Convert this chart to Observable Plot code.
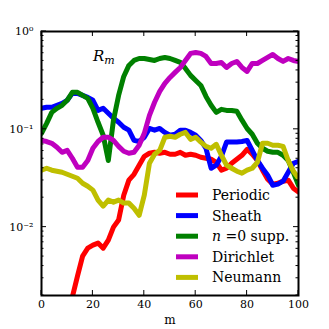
<!DOCTYPE html>
<html><head><meta charset="utf-8">
<script src="https://cdn.jsdelivr.net/npm/d3@7"></script>
<script src="https://cdn.jsdelivr.net/npm/@observablehq/plot@0.6"></script>
<style>
body{margin:0;background:#fff;}
#chart{width:329px;height:329px;}
svg text.serif, svg text.serif tspan{font-family:"DejaVu Serif","Liberation Serif",serif !important;}
</style></head><body><div id="chart"></div>
<script>
// m sampling (x)
const mValues = [0,2,4,6,8,10,12,14,16,18,20,22,24,26,28,30,32,34,36,38,40,42,44,46,48,50,52,54,56,58,60,62,64,66,68,70,72,74,76,78,80,82,84,86,88,90,92,94,96,98,100];
const mPeriodic = [12,14,16,18,20,22,24,26,28,30,32,34,36,38,40,42,44,46,48,50,52,54,56,58,60,62,64,66,68,70,72,74,76,78,80,82,84,86,88,90,92,94,96,98,100];

const periodic = [0.00193,0.00316,0.00506,0.0061,0.00655,0.00687,0.0061,0.00737,0.0100,0.0118,
  0.0212,0.0302,0.0347,0.043,0.053,0.0569,0.0582,0.0569,0.0582,0.0556,
  0.0556,0.0582,0.0543,0.0556,0.0543,0.0518,0.0506,0.0494,0.046,0.0382,
  0.040,0.045,0.0494,0.0543,0.0625,0.0556,0.048,0.0382,0.0309,0.0275,
  0.0281,0.0295,0.0302,0.025,0.0228];
const sheath = [0.164,0.168,0.168,0.176,0.184,0.198,0.233,0.233,0.222,0.212,0.198,0.156,0.164,0.146,0.130,0.118,0.105,0.098,0.077,0.075,0.083,0.102,0.098,0.102,0.093,0.087,0.089,0.098,0.098,0.093,0.087,0.077,0.064,0.040,0.043,0.053,0.074,0.074,0.074,0.075,0.077,0.061,0.048,0.040,0.034,0.0268,0.0275,0.0295,0.0364,0.045,0.047];
const n0supp = [0.091,0.115,0.149,0.164,0.176,0.198,0.239,0.239,0.222,0.207,0.164,0.118,0.087,0.048,0.124,0.222,0.347,0.450,0.506,0.530,0.530,0.518,0.506,0.530,0.543,0.530,0.506,0.483,0.419,0.356,0.316,0.281,0.217,0.176,0.149,0.160,0.156,0.156,0.153,0.124,0.102,0.089,0.072,0.064,0.0597,0.0582,0.0582,0.0543,0.048,0.0364,0.0268];
const dirichlet = [0.077,0.075,0.072,0.0655,0.0582,0.061,0.0506,0.041,0.041,0.048,0.064,0.075,0.083,0.083,0.077,0.067,0.0597,0.0569,0.0582,0.0687,0.091,0.139,0.189,0.244,0.295,0.339,0.382,0.429,0.506,0.597,0.611,0.597,0.556,0.471,0.471,0.483,0.429,0.471,0.494,0.429,0.391,0.471,0.471,0.506,0.543,0.583,0.530,0.494,0.530,0.506,0.494];
const neumann = [0.0382,0.040,0.0382,0.0373,0.0364,0.0347,0.0331,0.0316,0.0281,0.0262,0.0239,0.0189,0.0164,0.0189,0.0180,0.0189,0.0176,0.0176,0.0156,0.0132,0.0212,0.045,0.0556,0.061,0.083,0.085,0.083,0.089,0.093,0.079,0.083,0.074,0.067,0.064,0.0703,0.0543,0.043,0.040,0.0373,0.0356,0.0382,0.040,0.046,0.072,0.072,0.0687,0.0687,0.067,0.048,0.0373,0.0316];

const seriesNames = ["Periodic","Sheath","n =0 supp.","Dirichlet","Neumann"];
const seriesColors = ["#ff0000","#0000ff","#008000","#bf00bf","#bfbf00"];
const seriesX = [mPeriodic, mValues, mValues, mValues, mValues];
const seriesY = [periodic, sheath, n0supp, dirichlet, neumann];

const xTicks = [0,20,40,60,80,100];
const yMajor = [0.01,0.1,1];
const yMajorLabels = ["10\u207B\u00B2","10\u207B\u00B9","10\u2070"];
const yMinor = [0.002,0.003,0.004,0.005,0.006,0.007,0.008,0.009,0.02,0.03,0.04,0.05,0.06,0.07,0.08,0.09,0.2,0.3,0.4,0.5,0.6,0.7,0.8,0.9];

const rows = [];
seriesNames.forEach((name, s) => {
  seriesX[s].forEach((m, i) => rows.push({series: name, m, v: seriesY[s][i]}));
});

const lineMarks = seriesNames.map((name, s) =>
  Plot.line(rows.filter(r => r.series === name), {x: "m", y: "v", stroke: seriesColors[s], strokeWidth: 5, strokeLinejoin: "round", clip: true})
);

const plot = Plot.plot({
  width: 329, height: 329,
  marginLeft: 41, marginRight: 31, marginTop: 31, marginBottom: 34,
  style: {fontFamily: "'DejaVu Serif','Liberation Serif',serif", fontSize: "11px", background: "white", color: "black"},
  x: {domain: [0, 100]},
  y: {type: "log", domain: [0.002, 1]},
  marks: [
    ...lineMarks,
    Plot.frame({stroke: "black", strokeWidth: 2}),
    Plot.axisX({anchor: "bottom", ticks: xTicks, tickSize: 0, tickPadding: 5, tickFormat: d => String(d), label: null, fontFamily: "'DejaVu Serif','Liberation Serif',serif"}),
    Plot.axisY({anchor: "left", ticks: yMajor, tickSize: 0, tickPadding: 8, tickFormat: d => yMajorLabels[yMajor.indexOf(d)], label: null, fontFamily: "'DejaVu Serif','Liberation Serif',serif"})
  ]
});
document.getElementById("chart").appendChild(plot);

const sx = plot.scale("x"), sy = plot.scale("y");
const [x0, x1] = sx.range, [y0, y1] = sy.range;
const svg = d3.select(plot);
const tg = svg.append("g").attr("stroke", "black").attr("stroke-width", 1);
const B = Math.max(y0, y1), T = Math.min(y0, y1);
xTicks.forEach(t => {
  const px = sx.apply(t);
  tg.append("line").attr("x1", px).attr("x2", px).attr("y1", B).attr("y2", B - 5);
  tg.append("line").attr("x1", px).attr("x2", px).attr("y1", T).attr("y2", T + 5);
});
const L = Math.min(x0, x1), R = Math.max(x0, x1);
yMajor.forEach(t => {
  const py = sy.apply(t);
  tg.append("line").attr("x1", L).attr("x2", L + 5).attr("y1", py).attr("y2", py);
  tg.append("line").attr("x1", R).attr("x2", R - 5).attr("y1", py).attr("y2", py);
});
yMinor.forEach(t => {
  const py = sy.apply(t);
  tg.append("line").attr("x1", L).attr("x2", L + 2.5).attr("y1", py).attr("y2", py);
  tg.append("line").attr("x1", R).attr("x2", R - 2.5).attr("y1", py).attr("y2", py);
});

// x label
svg.append("text").attr("class", "serif").attr("x", 170).attr("y", 324).attr("text-anchor", "middle")
  .attr("font-size", 12).text("m");
// R_m annotation
const rt = svg.append("text").attr("class", "serif").attr("x", 93).attr("y", 61).attr("text-anchor", "start")
  .attr("font-style", "italic").attr("font-size", 15);
rt.append("tspan").text("R");
rt.append("tspan").attr("font-size", 11).attr("dy", 3).text("m");

// legend
const lg = svg.append("g").attr("text-anchor", "start");
seriesNames.forEach((name, s) => {
  const y = 195 + s * 20.6;
  lg.append("line").attr("x1", 176).attr("x2", 198).attr("y1", y).attr("y2", y)
    .attr("stroke", seriesColors[s]).attr("stroke-width", 5);
  const t = lg.append("text").attr("class", "serif").attr("x", 212).attr("y", y + 5).attr("text-anchor", "start")
    .attr("font-size", 14);
  if (name.startsWith("n ")) {
    t.append("tspan").attr("font-style", "italic").text("n");
    t.append("tspan").text(name.slice(1));
  } else t.text(name);
});
</script></body></html>
